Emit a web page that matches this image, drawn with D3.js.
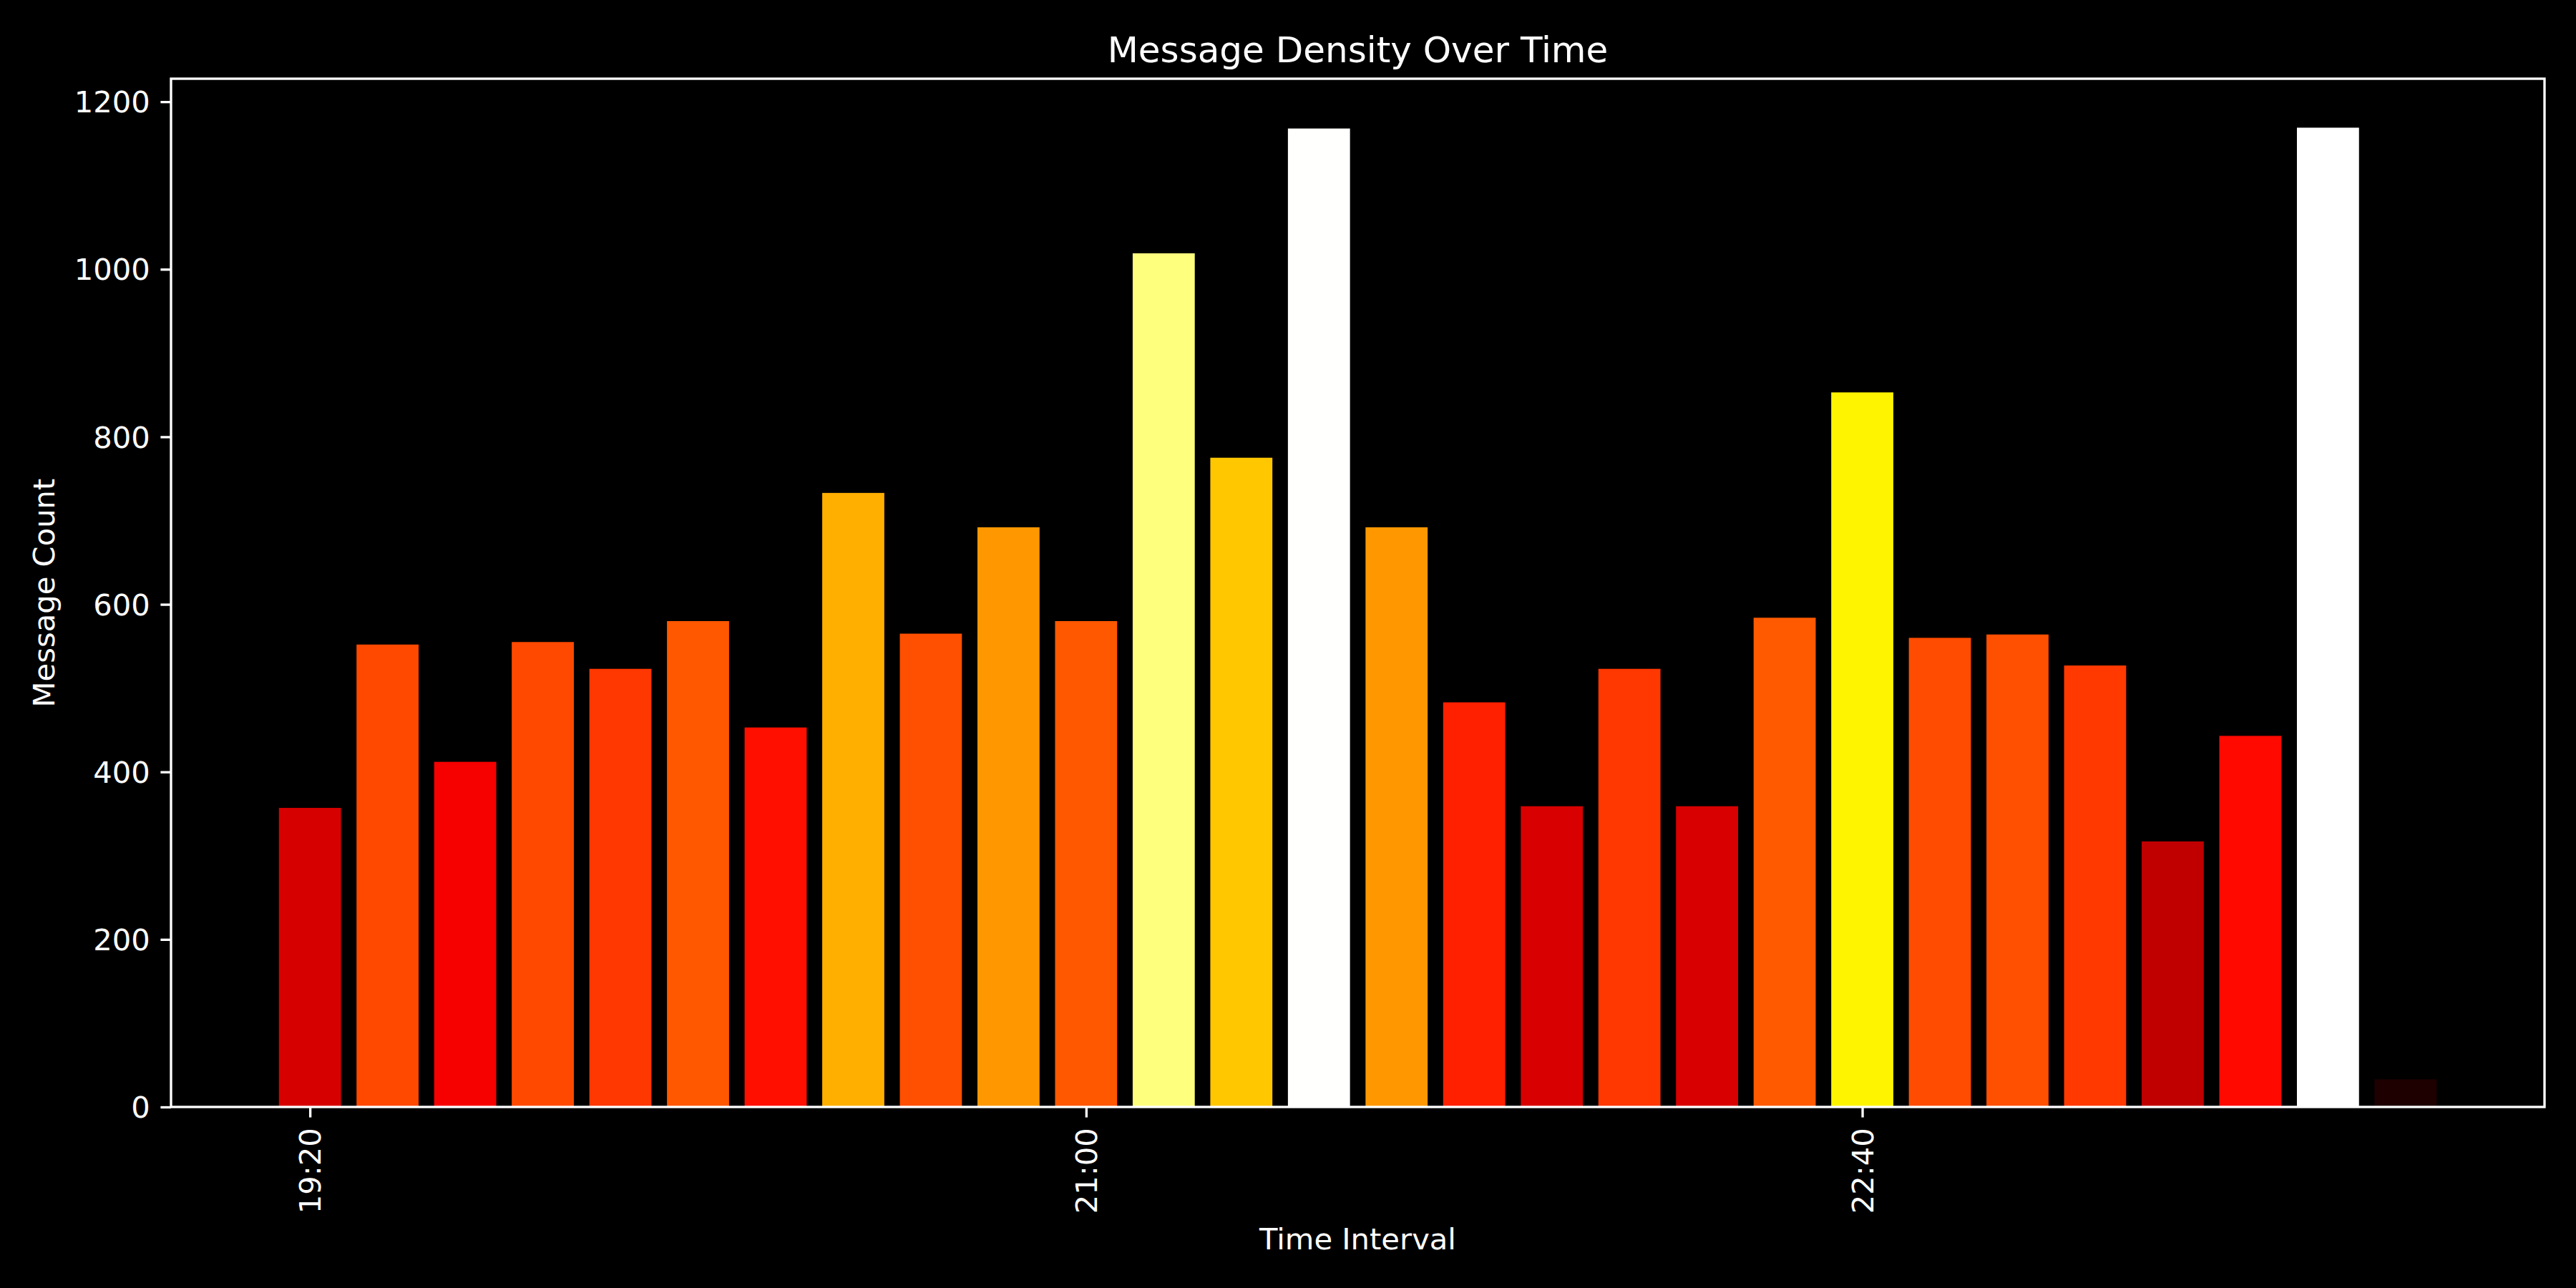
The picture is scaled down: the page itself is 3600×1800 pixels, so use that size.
<!DOCTYPE html>
<html>
<head>
<meta charset="utf-8">
<script src="https://cdn.jsdelivr.net/npm/d3@7"></script>
<style>
  html, body { margin: 0; padding: 0; background: #000; }
  svg { display: block; }
  text { font-family: "DejaVu Sans", sans-serif; fill: #fff; }
</style>
</head>
<body>
<div id="chart"></div>
<script>

var intervals = ['19:20','19:30','19:40','19:50','20:00','20:10','20:20','20:30','20:40','20:50',
                 '21:00','21:10','21:20','21:30','21:40','21:50','22:00','22:10','22:20','22:30',
                 '22:40','22:50','23:00','23:10','23:20','23:30','23:40','23:50'];
var counts = [357, 552, 412, 555, 523, 580, 453, 733, 565, 692,
              580, 1019, 775, 1168, 692, 483, 359, 523, 359, 584,
              853, 560, 564, 527, 317, 443, 1169, 33];
var xTickLabels = ['19:20', '21:00', '22:40'];
var yTickValues = [0, 200, 400, 600, 800, 1000, 1200];

var width = 3600, height = 1800,
  margin = {top: 110, right: 44, bottom: 253, left: 239},
  w = width - margin.left - margin.right,
  h = height - margin.top - margin.bottom,
  lw = 3.33, tickLen = 14.6, tickPad = 14.6, fs = 41.7;

var parse = d3.timeParse('%H:%M');
var times = intervals.map(parse);
var step = 10 * 60 * 1000; // 10 minutes
var barW = 0.8 * step;
var pad = 0.4 * step + 0.05 * ((times[times.length-1] - times[0]) + barW);

var x = d3.scaleTime()
  .domain([new Date(+times[0] - pad), new Date(+times[times.length-1] + pad)])
  .range([0, w]);

var y = d3.scaleLinear()
  .domain([0, d3.max(counts) * 1.05])
  .range([h, 0]);

// matplotlib "hot" colormap
var hotR = d3.scaleLinear().domain([0, 0.365079, 1]).range([0.0416, 1, 1]).clamp(true),
  hotG = d3.scaleLinear().domain([0, 0.365079, 0.746032, 1]).range([0, 0, 1, 1]).clamp(true),
  hotB = d3.scaleLinear().domain([0, 0.746032, 1]).range([0, 0, 1]).clamp(true);
var norm = d3.scaleLinear().domain([0, d3.max(counts)]).clamp(true);
function hot(v){
  var t = norm(v);
  return d3.rgb(Math.round(hotR(t)*255), Math.round(hotG(t)*255), Math.round(hotB(t)*255)).toString();
}

var svg = d3.select('#chart').append('svg')
  .attr('width', width)
  .attr('height', height)
  .style('background', '#000');

var g = svg.append('g')
  .attr('transform', 'translate(' + margin.left + ',' + margin.top + ')');

g.append('rect')
  .attr('width', w).attr('height', h)
  .attr('fill', '#000');

g.selectAll('.bar')
  .data(counts)
  .enter().append('rect')
    .attr('class', 'bar')
    .attr('x', function(d, i){ return x(new Date(+times[i] - barW/2)); })
    .attr('width', function(d, i){ return x(new Date(+times[i] + barW/2)) - x(new Date(+times[i] - barW/2)); })
    .attr('y', function(d){ return y(d); })
    .attr('height', function(d){ return h - y(d); })
    .attr('fill', function(d){ return hot(d); });

// axes
var xAxis = d3.axisBottom(x)
  .tickValues(xTickLabels.map(parse))
  .tickFormat(d3.timeFormat('%H:%M'))
  .tickSizeInner(tickLen)
  .tickSizeOuter(0);

var yAxis = d3.axisLeft(y)
  .tickValues(yTickValues)
  .tickFormat(d3.format('d'))
  .tickSizeInner(tickLen)
  .tickSizeOuter(0);

var gx = g.append('g')
  .attr('transform', 'translate(0,' + h + ')')
  .call(xAxis);
gx.select('.domain').remove();
gx.selectAll('.tick line').attr('stroke', '#fff').attr('stroke-width', lw);
gx.selectAll('.tick text')
  .attr('fill', '#fff')
  .style('font-size', fs + 'px')
  .attr('transform', 'rotate(-90)')
  .attr('x', -(tickLen + tickPad))
  .attr('y', 0)
  .attr('dy', '0.35em')
  .attr('text-anchor', 'end');

var gy = g.append('g').call(yAxis);
gy.select('.domain').remove();
gy.selectAll('.tick line').attr('stroke', '#fff').attr('stroke-width', lw);
gy.selectAll('.tick text')
  .attr('fill', '#fff')
  .style('font-size', fs + 'px')
  .attr('x', -(tickLen + tickPad))
  .attr('dy', '0.35em');

// spines
g.append('rect')
  .attr('width', w).attr('height', h)
  .attr('fill', 'none')
  .attr('stroke', '#fff')
  .attr('stroke-width', lw);

// labels
svg.append('text')
  .attr('x', margin.left + w/2)
  .attr('y', 87)
  .attr('text-anchor', 'middle')
  .style('font-size', '50px')
  .text('Message Density Over Time');

svg.append('text')
  .attr('x', margin.left + w/2)
  .attr('y', 1746)
  .attr('text-anchor', 'middle')
  .style('font-size', fs + 'px')
  .text('Time Interval');

svg.append('text')
  .attr('transform', 'translate(76,' + (margin.top + h/2) + ') rotate(-90)')
  .attr('text-anchor', 'middle')
  .style('font-size', fs + 'px')
  .text('Message Count');

</script>
</body>
</html>
